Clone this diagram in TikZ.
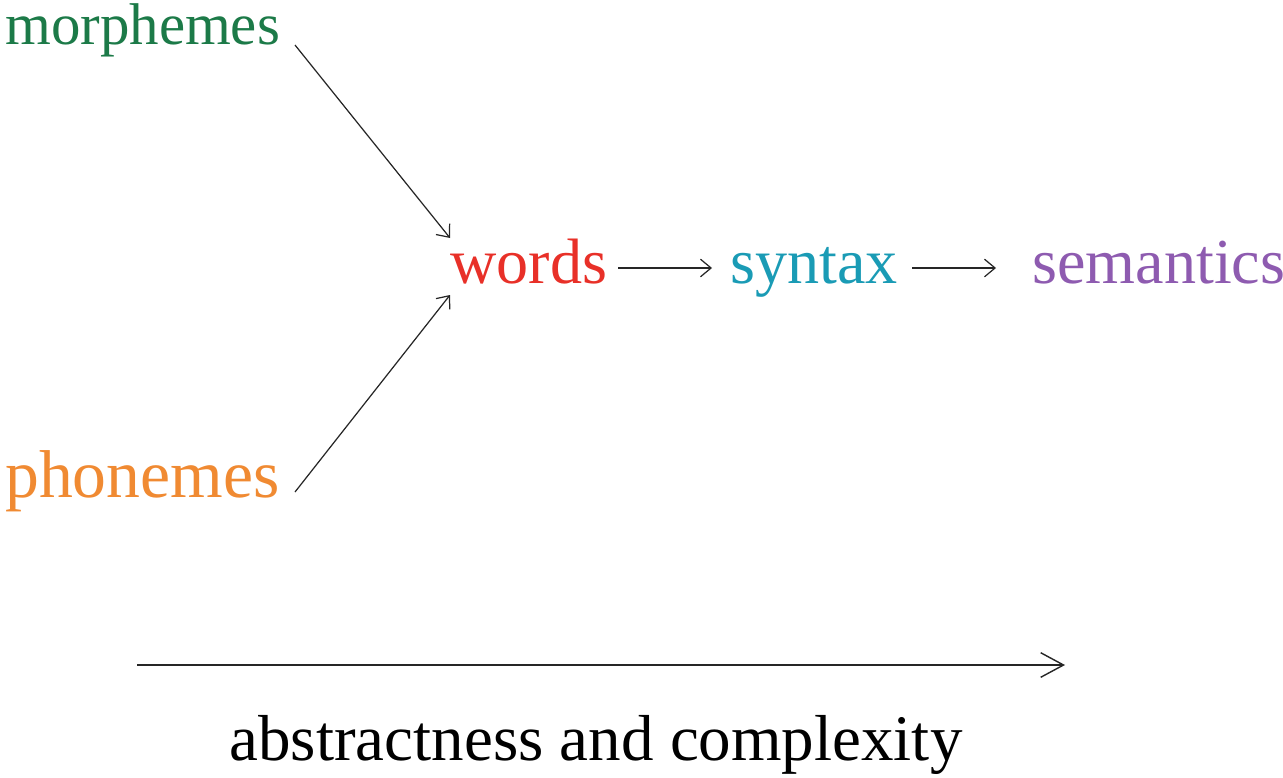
\documentclass[tikz,border=0pt]{standalone}
\usepackage{fontspec}
\setmainfont{Liberation Serif}
\usetikzlibrary{calc,arrows.meta}
\definecolor{cmorph}{RGB}{28,122,72}
\definecolor{cphon}{RGB}{240,138,50}
\definecolor{cwords}{RGB}{232,48,40}
\definecolor{csyn}{RGB}{26,155,181}
\definecolor{csem}{RGB}{142,91,176}
\tikzset{
  lbl/.style={inner sep=0pt, font=\fontsize{36.5}{40}\selectfont},
  arr/.style={-{Straight Barb[length=6pt,width=10pt,line width=0.7pt]}, line width=0.7pt, black!85},
  bigarr/.style={-{Straight Barb[length=13pt,width=14pt,line width=0.8pt]}, line width=0.8pt, black!85},
}
\begin{document}
\begin{tikzpicture}[x=0.02cm, y=-0.02cm]
\useasboundingbox (0,0) rectangle (1283,777);
\node[lbl, anchor=base west, text=cmorph, font=\fontsize{33.5}{40}\selectfont] (morph) at (5,45) {morphemes};
\node[lbl, anchor=base west, text=cphon, font=\fontsize{38.5}{40}\selectfont] (phon) at (5,497) {phonemes};
\node[lbl, anchor=base west, text=cwords] (words) at (450,283) {words};
\node[lbl, anchor=base west, text=csyn] (syn) at (730,283) {syntax};
\node[lbl, anchor=base west, text=csem] (sem) at (1032,283) {semantics};
\node[lbl, anchor=base, text=black, font=\fontsize{37}{40}\selectfont] (abs) at (596,760) {abstractness and complexity};
\coordinate (a1) at (137,665);
\coordinate (a2) at (1065,665);
\draw[arr] ($(morph.base west)+(290,0)$) -- ($(words.base west)+(0,-45)$);
\draw[arr] ($(phon.base west)+(290,-5)$) -- ($(words.base west)+(0,12)$);
\draw[arr] ($(words.base west)+(168,-15)$) -- ($(syn.base west)+(-18,-15)$);
\draw[arr] ($(syn.base west)+(182,-15)$) -- ($(sem.base west)+(-36,-15)$);
\draw[bigarr] (a1) -- (a2);
\end{tikzpicture}
\end{document}
